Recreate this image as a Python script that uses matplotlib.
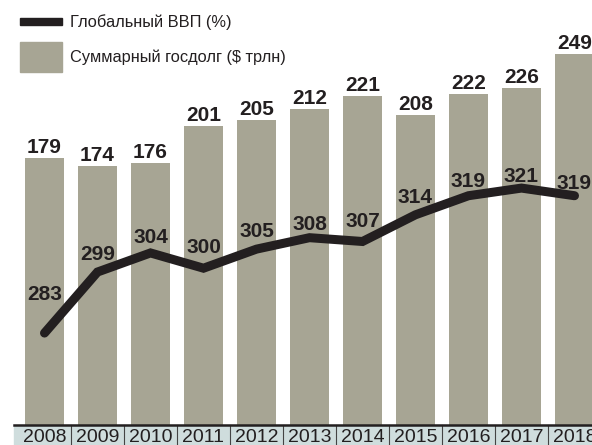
import matplotlib.pyplot as plt
from matplotlib.patches import Rectangle
from matplotlib.lines import Line2D

# ----------------------------------------------------------
# ДАННЫЕ
# ----------------------------------------------------------
years = ["2008", "2009", "2010", "2011", "2012", "2013",
         "2014", "2015", "2016", "2017", "2018"]
debt = [179, 174, 176, 201, 205, 212, 221, 208, 222, 226, 249]
gdp = [283, 299, 304, 300, 305, 308, 307, 314, 319, 321, 319]

legend_gdp = "Глобальный ВВП (%)"
legend_debt = "Суммарный госдолг ($ трлн)"

# подъём подписей линии над точкой (px)
gdp_lift_px = [33, 12, 10, 15, 12, 8, 14, 12, 9, 6, 7]

# ----------------------------------------------------------
# ВИЗУАЛ
# ----------------------------------------------------------
W, H, DPI = 592, 445, 100
BAR_C = "#a7a594"
INK = "#231f20"
TICK_BG = "#cfdddd"
FONT = ["Liberation Sans", "DejaVu Sans"]
plt.rcParams["font.family"] = FONT

AX_BOTTOM = 20  # px от низа


def fx(px):
    return px / W


def fy(py_top):
    # пиксели сверху -> доля фигуры снизу
    return 1 - py_top / H


fig = plt.figure(figsize=(W / DPI, H / DPI), dpi=DPI)
fig.patch.set_facecolor("white")

# подложка подписей лет (под осями)
fig.patches.append(Rectangle((fx(14), 0), 1 - fx(14), AX_BOTTOM / H,
                             transform=fig.transFigure, color=TICK_BG,
                             zorder=-5))

ax = fig.add_axes([0, AX_BOTTOM / H, 1, 1 - AX_BOTTOM / H])
x = list(range(len(years)))
pitch = 53.0
ax.set_xlim(-44.5 / pitch, (W - 44.5) / pitch)
ax.set_ylim(0, 425 / 1.49)

ax.bar(x, debt, width=39 / pitch, color=BAR_C, zorder=2)
for xi, v in zip(x, debt):
    ax.annotate(str(v), (xi, v), xytext=(0, 3.6), textcoords="offset points",
                ha="center", va="baseline", fontsize=15, fontweight="bold",
                color=INK, zorder=5)

ax2 = ax.twinx()
ax2.set_ylim(258.9, 370.3)
ax2.plot(x, gdp, color=INK, lw=6.5, solid_capstyle="round",
         solid_joinstyle="miter", zorder=3)
for xi, v, lift in zip(x, gdp, gdp_lift_px):
    ax2.annotate(str(v), (xi, v), xytext=(0, lift * 72 / DPI),
                 textcoords="offset points", ha="center", va="baseline",
                 fontsize=15, fontweight="bold", color=INK, zorder=5)

for a in (ax, ax2):
    for s in a.spines.values():
        s.set_visible(False)
    a.set_yticks([])
    a.patch.set_visible(False)

ax.set_xticks(x)
ax.set_xticklabels(years, fontsize=14, color=INK)
ax.tick_params(axis="x", length=0, pad=3)

for xi in x[:-1]:
    ax.plot([xi + 0.5, xi + 0.5], [-AX_BOTTOM / 425, 0], color="#444444",
            lw=0.8, transform=ax.get_xaxis_transform(), clip_on=False,
            zorder=1)
fig.lines.append(Line2D([fx(14), 1], [fy(424.5), fy(424.5)],
                        transform=fig.transFigure, color=INK, lw=1.8,
                        zorder=10))

# легенда
fig.patches.append(Rectangle((fx(20), fy(25)), fx(42), 7 / H,
                             transform=fig.transFigure, color=INK))
fig.patches.append(Rectangle((fx(20), fy(72)), fx(42), 30 / H,
                             transform=fig.transFigure, color=BAR_C))
fig.text(fx(70), fy(22), legend_gdp, fontsize=11.8, color=INK,
         ha="left", va="center")
fig.text(fx(70), fy(57), legend_debt, fontsize=11.8, color=INK,
         ha="left", va="center")

fig.savefig("out.png", dpi=DPI)
